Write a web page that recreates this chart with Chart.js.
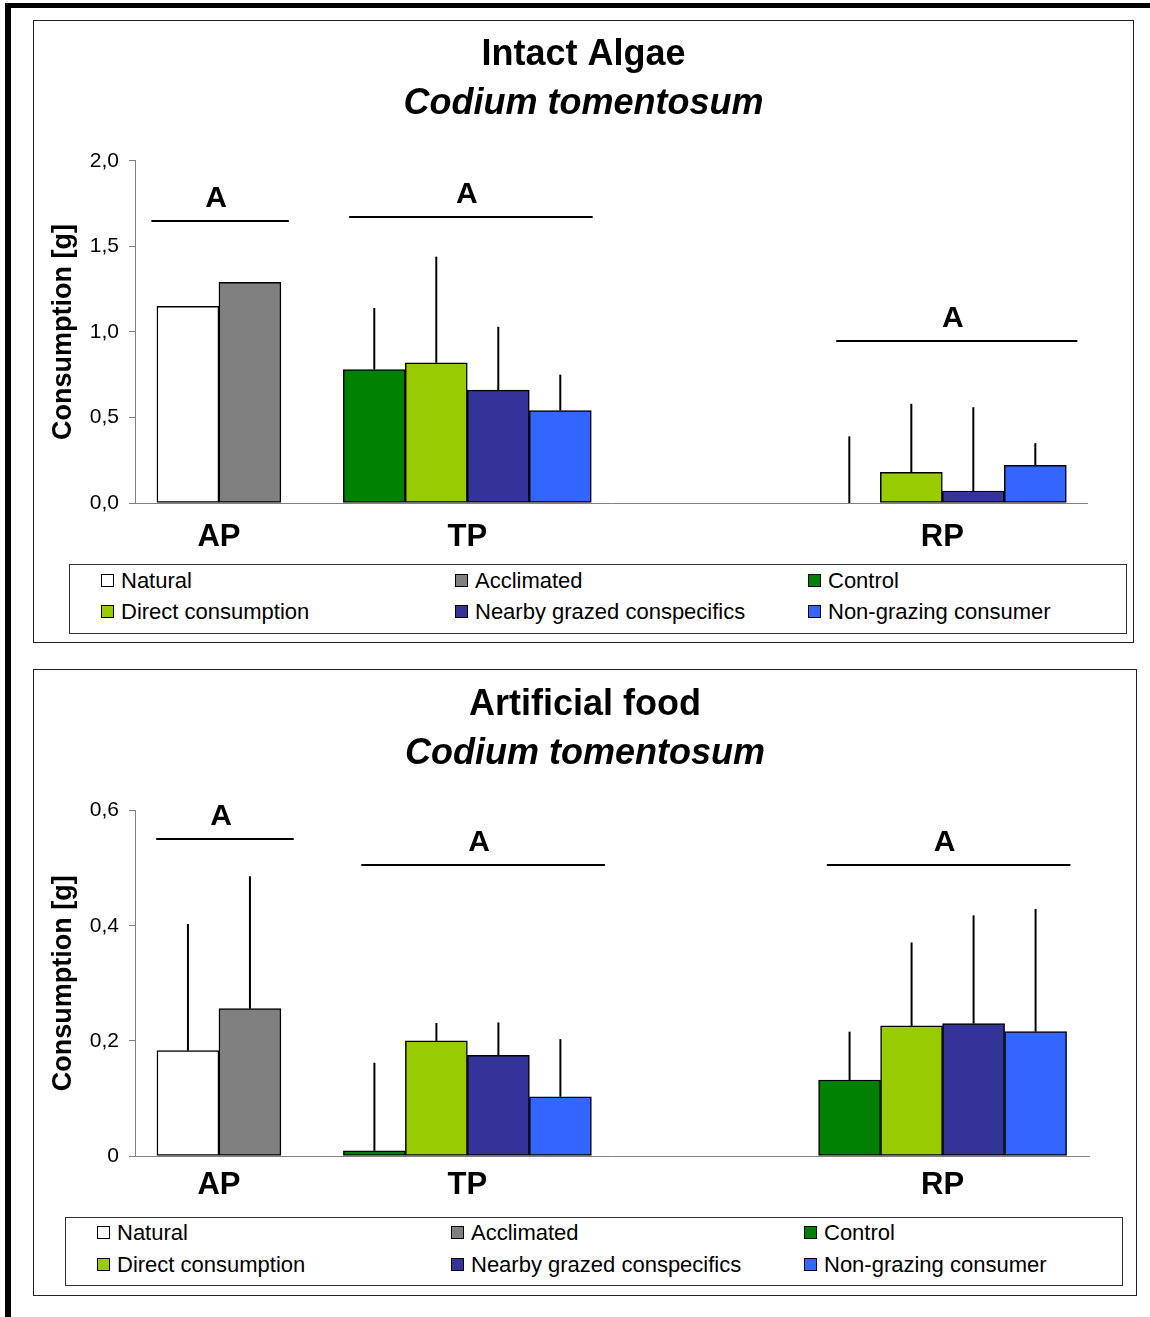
<!DOCTYPE html>
<html>
<head>
<meta charset="utf-8">
<script src="https://cdn.jsdelivr.net/npm/chart.js@4.4.0/dist/chart.umd.min.js"></script>
<style>
  body { margin: 0; background: #fff; font-family: "Liberation Sans", Arial, sans-serif; }
  #page { position: relative; width: 1150px; height: 1317px; overflow: hidden; background: #fff; }
  .frameTop { position: absolute; left: 5px; top: 3px; width: 1145px; height: 5px; background: #000; }
  .frameLeft { position: absolute; left: 5px; top: 3px; width: 6px; height: 1314px; background: #000; }
  .panel { position: absolute; border: 1px solid #222; box-sizing: border-box; background: #fff; }
  .panel canvas { position: absolute; left: 0; top: 0; }
  .legend { position: absolute; border: 1px solid #333; box-sizing: border-box; }
  .item { position: absolute; display: flex; align-items: center; height: 21px; font-size: 22px; color: #000; white-space: nowrap; }
  .swatch { width: 13px; height: 13px; border: 1.5px solid #000; box-sizing: border-box; margin-right: 7px; }
</style>
</head>
<body>
<div id="page">
  <div class="frameTop"></div>
  <div class="frameLeft"></div>
  <div class="panel" style="left:33px;top:20px;width:1101px;height:623px;">
    <canvas id="algaeChart" width="1099" height="542"></canvas>
    <div class="legend" id="algaeLegend" style="left:35px;top:543px;width:1058px;height:70px;"></div>
  </div>
  <div class="panel" style="left:33px;top:669px;width:1104px;height:627px;">
    <canvas id="foodChart" width="1102" height="546"></canvas>
    <div class="legend" id="foodLegend" style="left:31px;top:547px;width:1058px;height:69px;"></div>
  </div>
</div>
<script>
const FONT = "'Liberation Sans', Arial, sans-serif";

const groups = ["AP", "TP", "RP"];
const groupPos = [0, 1.03, 3];
const seriesNames = ["Natural", "Acclimated", "Control", "Direct consumption", "Nearby grazed conspecifics", "Non-grazing consumer"];
const seriesColors = ["#FFFFFF", "#808080", "#008000", "#99CC00", "#333399", "#3366FF"];

// Intact algae - mean consumption [g] for AP, TP, RP
const algaeNatural = [1.15, null, null];
const algaeAcclimated = [1.29, null, null];
const algaeControl = [null, 0.78, 0];
const algaeDirect = [null, 0.82, 0.18];
const algaeNearby = [null, 0.66, 0.07];
const algaeNonGrazing = [null, 0.54, 0.22];
// upper error bars
const algaeNaturalErr = [0, null, null];
const algaeAcclimatedErr = [0, null, null];
const algaeControlErr = [null, 0.36, 0.39];
const algaeDirectErr = [null, 0.62, 0.40];
const algaeNearbyErr = [null, 0.37, 0.49];
const algaeNonGrazingErr = [null, 0.21, 0.13];

// Artificial food
const foodNatural = [0.183, null, null];
const foodAcclimated = [0.256, null, null];
const foodControl = [null, 0.009, 0.132];
const foodDirect = [null, 0.20, 0.226];
const foodNearby = [null, 0.175, 0.23];
const foodNonGrazing = [null, 0.103, 0.216];
const foodNaturalErr = [0.22, null, null];
const foodAcclimatedErr = [0.23, null, null];
const foodControlErr = [null, 0.153, 0.084];
const foodDirectErr = [null, 0.031, 0.145];
const foodNearbyErr = [null, 0.057, 0.188];
const foodNonGrazingErr = [null, 0.10, 0.213];

// significance letters and lines above each group
const sigLetters = ["A", "A", "A"];
const algaeSigY = [1.65, 1.67, 0.95];
const algaeSigFrom = [-0.28, 0.54, 2.56];
const algaeSigTo = [0.29, 1.55, 3.56];
const foodSigY = [0.551, 0.506, 0.506];
const foodSigFrom = [-0.26, 0.59, 2.52];
const foodSigTo = [0.31, 1.60, 3.53];

const xMin = -0.348;

function errorBarPlugin() {
  return {
    id: "errorBars",
    afterDatasetsDraw(chart) {
      const ctx = chart.ctx;
      const yScale = chart.scales.y;
      ctx.save();
      ctx.strokeStyle = "#000";
      ctx.lineWidth = 2;
      chart.data.datasets.forEach((ds, i) => {
        const meta = chart.getDatasetMeta(i);
        ds.errors.forEach((err, j) => {
          if (!err || ds.data[j] == null) return;
          const bar = meta.data[j];
          const yTop = yScale.getPixelForValue(ds.data[j] + err);
          ctx.beginPath();
          ctx.moveTo(bar.x, bar.y);
          ctx.lineTo(bar.x, yTop);
          ctx.stroke();
        });
      });
      ctx.restore();
    }
  };
}

function sigPlugin(lineY, from, to) {
  return {
    id: "sigLines",
    afterDraw(chart) {
      const { ctx, scales: { x, y } } = chart;
      ctx.save();
      ctx.strokeStyle = "#000";
      ctx.fillStyle = "#000";
      ctx.lineWidth = 2;
      ctx.font = "bold 30px " + FONT;
      ctx.textAlign = "center";
      ctx.textBaseline = "alphabetic";
      sigLetters.forEach((t, i) => {
        const x1 = x.getPixelForValue(from[i]);
        const x2 = x.getPixelForValue(to[i]);
        const py = Math.round(y.getPixelForValue(lineY[i]));
        ctx.beginPath();
        ctx.moveTo(x1, py);
        ctx.lineTo(x2, py);
        ctx.stroke();
        ctx.fillText(t, (x1 + x2) / 2 - 4, py - 14);
      });
      ctx.restore();
    }
  };
}

function buildLegend(id, rows) {
  const box = document.getElementById(id);
  const cols = [31, 385, 738];
  seriesNames.forEach((name, i) => {
    const item = document.createElement("div");
    item.className = "item";
    item.style.left = cols[i % 3] + "px";
    item.style.top = (rows[Math.floor(i / 3)] - 4) + "px";
    const sw = document.createElement("span");
    sw.className = "swatch";
    sw.style.background = seriesColors[i];
    item.appendChild(sw);
    item.appendChild(document.createTextNode(name));
    box.appendChild(item);
  });
}

function buildChart(id, p) {
  const datasets = seriesNames.map((name, i) => ({
    label: name,
    data: p.values[i],
    errors: p.errors[i],
    backgroundColor: seriesColors[i],
    borderColor: "#000",
    borderWidth: 1.5,
    borderSkipped: false,
    barThickness: 62,
    skipNull: true
  }));

  return new Chart(document.getElementById(id), {
    type: "bar",
    data: { labels: groupPos, datasets: datasets },
    plugins: [errorBarPlugin(), sigPlugin(p.sigY, p.sigFrom, p.sigTo)],
    options: {
      responsive: false,
      animation: false,
      layout: { padding: 0 },
      plugins: {
        legend: { display: false },
        tooltip: { enabled: false },
        title: {
          display: true,
          text: p.title,
          color: "#000",
          font: { size: 36, weight: "bold", family: FONT },
          padding: { top: p.titleTop, bottom: 0 }
        },
        subtitle: {
          display: true,
          text: "Codium tomentosum",
          color: "#000",
          font: { size: 36, weight: "bold", style: "italic", family: FONT },
          padding: { top: p.subTop, bottom: p.subBottom }
        }
      },
      scales: {
        x: {
          type: "linear",
          offset: false,
          min: xMin,
          max: p.xMax,
          grid: { display: false, drawTicks: false },
          border: { display: true, color: "#808080", width: 1 },
          afterBuildTicks: s => { s.ticks = groupPos.map(v => ({ value: v })); },
          afterFit: s => { s.height = 60; },
          ticks: {
            autoSkip: false,
            maxRotation: 0,
            padding: p.xLabelPad,
            color: "#000",
            font: { size: 31, weight: "bold", family: FONT },
            callback: (v, i) => groups[i]
          }
        },
        y: {
          min: 0,
          max: p.yMax,
          afterFit: s => { s.width = 101; },
          grid: { drawOnChartArea: false, drawTicks: true, tickLength: 6, color: "#808080" },
          border: { display: true, color: "#808080", width: 1 },
          ticks: {
            stepSize: p.yStep,
            padding: 10,
            color: "#000",
            font: { size: 21, family: FONT },
            callback: p.yFormat
          },
          title: {
            display: true,
            text: "Consumption [g]",
            color: "#000",
            font: { size: 27, weight: "bold", family: FONT },
            padding: { top: 13, bottom: 0 }
          }
        },
        // empty space on the right of the plot, keeps titles centred on the panel
        yRight: {
          position: "right",
          afterFit: s => { s.width = p.rightSpace; },
          grid: { display: false, drawTicks: false },
          border: { display: false },
          ticks: { display: false }
        }
      }
    }
  });
}

buildChart("algaeChart", {
  title: "Intact Algae",
  values: [algaeNatural, algaeAcclimated, algaeControl, algaeDirect, algaeNearby, algaeNonGrazing],
  errors: [algaeNaturalErr, algaeAcclimatedErr, algaeControlErr, algaeDirectErr, algaeNearbyErr, algaeNonGrazingErr],
  sigY: algaeSigY, sigFrom: algaeSigFrom, sigTo: algaeSigTo,
  titleTop: 12, subTop: 6, subBottom: 35.5,
  rightSpace: 46, xMax: 3.6, xLabelPad: 16,
  yMax: 2, yStep: 0.5,
  yFormat: v => v.toFixed(1).replace(".", ",")
});

buildChart("foodChart", {
  title: "Artificial food",
  values: [foodNatural, foodAcclimated, foodControl, foodDirect, foodNearby, foodNonGrazing],
  errors: [foodNaturalErr, foodAcclimatedErr, foodControlErr, foodDirectErr, foodNearbyErr, foodNonGrazingErr],
  sigY: foodSigY, sigFrom: foodSigFrom, sigTo: foodSigTo,
  titleTop: 13, subTop: 6, subBottom: 35.2,
  rightSpace: 47, xMax: 3.607, xLabelPad: 11,
  yMax: 0.6, yStep: 0.2,
  yFormat: v => v === 0 ? "0" : v.toFixed(1).replace(".", ",")
});

buildLegend("algaeLegend", [9, 40]);
buildLegend("foodLegend", [8, 40]);
</script>
</body>
</html>
